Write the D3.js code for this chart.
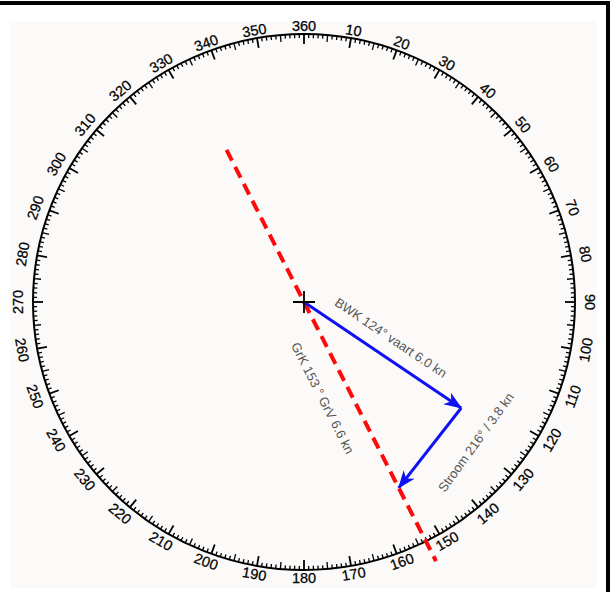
<!DOCTYPE html>
<html>
<head>
<meta charset="utf-8">
<script src="https://cdn.jsdelivr.net/npm/d3@7"></script>
<style>
  html, body { margin: 0; padding: 0; background: #fff; }
  svg { display: block; }
</style>
</head>
<body>
<div id="chart"></div>
<script>
// compass rose
const tickDegrees = d3.range(0, 360, 1);
const labelDegrees = d3.range(0, 360, 10);
const labelTexts = labelDegrees.map((d) => (d === 0 ? "360" : String(d)));

// vector triangle (course in degrees, speed in knots)
const vectorNames = ["BWK", "Stroom", "GrK"];
const vectorCourses = [124, 216, 153];
const vectorSpeeds = [6.0, 3.8, 6.6];
const vectorLabels = [
  "BWK 124° vaart 6.0 kn",
  "Stroom 216° / 3.8 kn",
  "GrK 153 ° GrV 6.6 kn",
];

const width = 612;
const height = 592;
const cx = 304;
const cy = 302;
// the scanned rose is a touch wider than tall
const rx = 271;
const ry = 268;

const svg = d3
  .select("#chart")
  .append("svg")
  .attr("width", width)
  .attr("height", height);

// frame
svg.append("rect").attr("x", 10).attr("y", 21).attr("width", 587).attr("height", 567).attr("fill", "#fbfaf8");
svg.append("rect").attr("x", 0).attr("y", 1).attr("width", 610).attr("height", 4).attr("fill", "#000");
svg.append("rect").attr("x", 606).attr("y", 1).attr("width", 4).attr("height", 591).attr("fill", "#000");

// knots -> pixels
const speed = d3.scaleLinear().domain([0, 10]).range([0, 316]);

function polar(deg, dist) {
  const a = (deg * Math.PI) / 180;
  return [cx + dist * Math.sin(a), cy - dist * Math.cos(a)];
}

function ring(deg, ax, ay) {
  const a = (deg * Math.PI) / 180;
  return [cx + ax * Math.sin(a), cy - ay * Math.cos(a)];
}

const rose = svg.append("g").attr("class", "rose");

rose
  .append("ellipse")
  .attr("cx", cx)
  .attr("cy", cy)
  .attr("rx", rx)
  .attr("ry", ry)
  .attr("fill", "none")
  .attr("stroke", "#000")
  .attr("stroke-width", 2);

const tickLen = (d) => (d % 10 === 0 ? 10 : d % 5 === 0 ? 7 : 4);

rose
  .append("g")
  .selectAll("line")
  .data(tickDegrees)
  .join("line")
  .attr("x1", (d) => ring(d, rx, ry)[0])
  .attr("y1", (d) => ring(d, rx, ry)[1])
  .attr("x2", (d) => ring(d, rx - tickLen(d), ry - tickLen(d))[0])
  .attr("y2", (d) => ring(d, rx - tickLen(d), ry - tickLen(d))[1])
  .attr("stroke", "#000")
  .attr("stroke-width", (d) => (d % 10 === 0 ? 1.8 : 1.3));

// labels sit outside the ring, bottom half flipped so they read upright
const flip = (d) => d > 90 && d < 270;
rose
  .append("g")
  .selectAll("text")
  .data(labelDegrees)
  .join("text")
  .attr("transform", (d) => {
    const [x, y] = ring(d, rx + 15, ry + 8);
    return `translate(${x},${y}) rotate(${flip(d) ? d - 180 : d})`;
  })
  .attr("text-anchor", "middle")
  .attr("dy", "0.36em")
  .style("font-family", "Liberation Sans, Arial, sans-serif")
  .style("font-size", "14.5px")
  .attr("fill", "#000")
  .attr("stroke", "#000")
  .attr("stroke-width", 0.25)
  .text((d, i) => labelTexts[i]);

// ground course line
const grk = vectorCourses[2];
const [lx1, ly1] = polar(grk, speed(-5.4));
const [lx2, ly2] = polar(grk, speed(9.2));
svg
  .append("line")
  .attr("x1", lx1)
  .attr("y1", ly1)
  .attr("x2", lx2)
  .attr("y2", ly2)
  .attr("stroke", "#ff0a0a")
  .attr("stroke-width", 4)
  .attr("stroke-dasharray", "12,7");

// arrowhead
svg
  .append("defs")
  .append("marker")
  .attr("id", "arrow")
  .attr("markerUnits", "userSpaceOnUse")
  .attr("viewBox", "0 -8 18 16")
  .attr("refX", 17)
  .attr("refY", 0)
  .attr("markerWidth", 18)
  .attr("markerHeight", 16)
  .attr("orient", "auto")
  .append("path")
  .attr("d", "M0,-7L18,0L0,7L5,0Z")
  .attr("fill", "#1010f5");

// BWK from centre, current closes the triangle at the GrK/GrV point
const pBwk = polar(vectorCourses[0], speed(vectorSpeeds[0]));
const pGrk = polar(vectorCourses[2], speed(vectorSpeeds[2]));
const segments = [
  [[cx, cy], pBwk],
  [pBwk, pGrk],
];

svg
  .append("g")
  .attr("class", "vectors")
  .selectAll("line")
  .data(segments)
  .join("line")
  .attr("x1", (d) => d[0][0])
  .attr("y1", (d) => d[0][1])
  .attr("x2", (d) => d[1][0])
  .attr("y2", (d) => d[1][1])
  .attr("stroke", "#1010f5")
  .attr("stroke-width", 3)
  .attr("marker-end", "url(#arrow)");

// centre cross
svg
  .append("path")
  .attr("d", `M${cx - 11},${cy}H${cx + 11}M${cx},${cy - 11}V${cy + 11}`)
  .attr("stroke", "#000")
  .attr("stroke-width", 1.8);

// vector labels: [start point, course, distance along, offset towards text top]
const labelPlace = [
  [[cx, cy], vectorCourses[0], 92, 19],
  [pBwk, vectorCourses[1], 19, -32],
  [[cx, cy], vectorCourses[2], 94, -27],
];

svg
  .append("g")
  .attr("class", "labels")
  .selectAll("text")
  .data(labelPlace)
  .join("text")
  .attr("transform", ([p, course, along, across]) => {
    const a = (course * Math.PI) / 180;
    let rot = course - 90;
    if (rot > 90) rot -= 180;
    const r = (rot * Math.PI) / 180;
    const x = p[0] + Math.sin(a) * along + Math.sin(r) * across;
    const y = p[1] - Math.cos(a) * along - Math.cos(r) * across;
    return `translate(${x},${y}) rotate(${rot})`;
  })
  .attr("text-anchor", "middle")
  .attr("dy", "0.35em")
  .style("font-family", "Liberation Sans, Arial, sans-serif")
  .style("font-size", "13px")
  .attr("fill", "#555")
  .text((d, i) => vectorLabels[i]);
</script>
</body>
</html>
